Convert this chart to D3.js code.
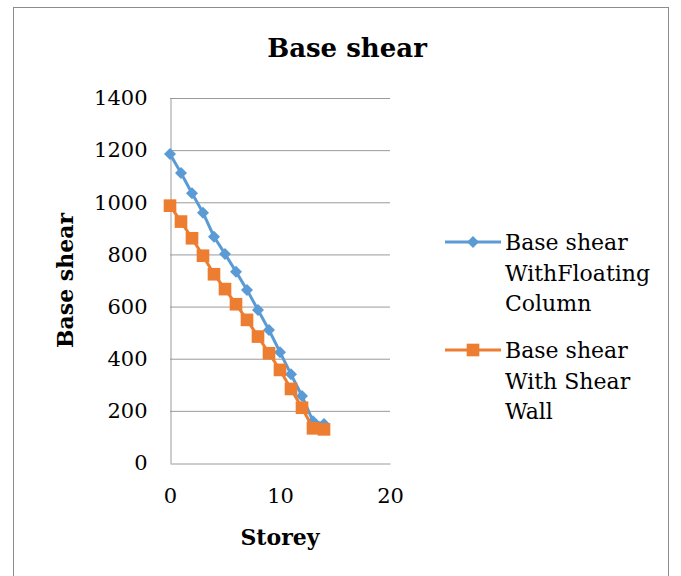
<!DOCTYPE html>
<html>
<head>
<meta charset="utf-8">
<script src="https://cdn.jsdelivr.net/npm/d3@7"></script>
<style>
  body { margin: 0; background: #fff; }
  text { font-family: "DejaVu Serif", serif; }
</style>
</head>
<body>
<div id="chart"></div>
<script>
const storeys = [0, 1, 2, 3, 4, 5, 6, 7, 8, 9, 10, 11, 12, 13, 14];
const floatingColumn = [1185, 1112, 1035, 960, 868, 802, 734, 664, 587, 510, 425, 340, 257, 160, 150];
const shearWall = [987, 926, 862, 795, 724, 667, 609, 549, 485, 421, 357, 284, 212, 133, 129];
const yTicks = [0, 200, 400, 600, 800, 1000, 1200, 1400];
const xTicks = [0, 10, 20];

const width = 681, height = 576;
const margin = { top: 98, left: 170, right: 291, bottom: 113 };

const svg = d3.select("#chart").append("svg")
  .attr("width", width)
  .attr("height", height);

svg.append("rect")
  .attr("x", 13.5).attr("y", 7.5)
  .attr("width", 655).attr("height", 580)
  .attr("fill", "#fff")
  .attr("stroke", "#8c8c8c");

const x = d3.scaleLinear().domain([0, 20]).range([margin.left, width - margin.right]);
const y = d3.scaleLinear().domain([0, 1400]).range([height - margin.bottom, margin.top]);

// gridlines
svg.append("g")
  .selectAll("line")
  .data(yTicks.slice(1))
  .join("line")
  .attr("x1", x(0)).attr("x2", x(20))
  .attr("y1", d => y(d) + 0.5).attr("y2", d => y(d) + 0.5)
  .attr("stroke", "#9a9a9a");

// axes
const yAxis = svg.append("g")
  .attr("transform", `translate(${x(0) + 0.5},0)`)
  .call(d3.axisLeft(y).tickValues(yTicks).tickFormat(d3.format("d")).tickSize(0).tickPadding(23));
yAxis.select(".domain").attr("stroke", "#9a9a9a");
yAxis.selectAll("text").attr("font-size", "21px").attr("fill", "#000")
  .style("font-family", "DejaVu Serif");

const xAxis = svg.append("g")
  .attr("transform", `translate(0,${y(0) + 0.5})`)
  .call(d3.axisBottom(x).tickValues(xTicks).tickSize(0).tickPadding(25));
xAxis.select(".domain").attr("stroke", "#9a9a9a");
xAxis.selectAll("text").attr("font-size", "21px").attr("fill", "#000")
  .style("font-family", "DejaVu Serif");

const series = [
  { name: ["Base shear", "WithFloating", "Column"], values: floatingColumn, color: "#5b9bd5", shape: d3.symbolDiamond2, size: 92 },
  { name: ["Base shear", "With Shear", "Wall"], values: shearWall, color: "#ed7d31", shape: d3.symbolSquare, size: 160 }
];

const line = d3.line()
  .x(d => x(d[0]))
  .y(d => y(d[1]));

series.forEach(s => {
  const pts = storeys.map((st, i) => [st, s.values[i]]);
  svg.append("path")
    .datum(pts)
    .attr("d", line)
    .attr("fill", "none")
    .attr("stroke", s.color)
    .attr("stroke-width", 3);
  svg.append("g")
    .selectAll("path")
    .data(pts)
    .join("path")
    .attr("transform", d => `translate(${x(d[0])},${y(d[1])})`)
    .attr("d", d3.symbol().type(s.shape).size(s.size))
    .attr("fill", s.color);
});

// title
svg.append("text")
  .attr("x", 347).attr("y", 57)
  .attr("text-anchor", "middle")
  .attr("font-size", "26px")
  .attr("font-weight", "bold")
  .text("Base shear");

// axis titles
svg.append("text")
  .attr("x", x(10)).attr("y", 545)
  .attr("text-anchor", "middle")
  .attr("font-size", "22px")
  .attr("font-weight", "bold")
  .text("Storey");

svg.append("text")
  .attr("transform", `translate(73,${y(700)}) rotate(-90)`)
  .attr("text-anchor", "middle")
  .attr("font-size", "22px")
  .attr("font-weight", "bold")
  .text("Base shear");

// legend
const legendTop = [242, 350];
series.forEach((s, i) => {
  const g = svg.append("g").attr("transform", `translate(445,${legendTop[i]})`);
  g.append("line")
    .attr("x1", 0).attr("x2", 56)
    .attr("stroke", s.color).attr("stroke-width", 3);
  g.append("path")
    .attr("transform", "translate(28,0)")
    .attr("d", d3.symbol().type(s.shape).size(s.size))
    .attr("fill", s.color);
  g.selectAll("text")
    .data(s.name)
    .join("text")
    .attr("x", 60)
    .attr("y", (d, j) => j * 30.5 + 8)
    .attr("font-size", "22px")
    .text(d => d);
});
</script>
</body>
</html>
